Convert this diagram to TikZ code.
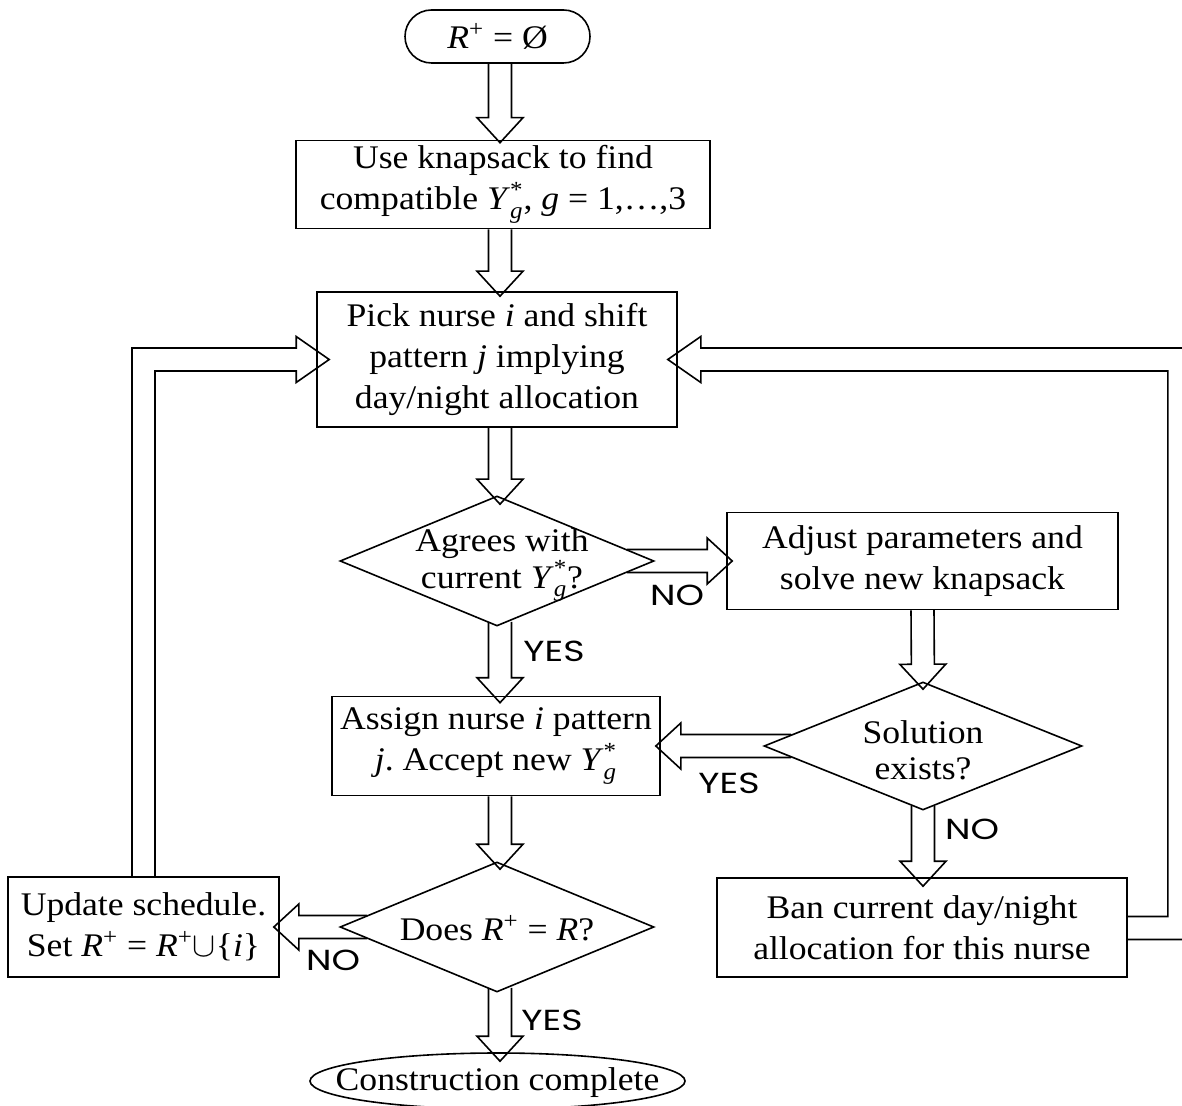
\documentclass[tikz,border=0pt]{standalone}
\usepackage{amsmath}
\usepackage{fontspec}
\setmainfont{Liberation Serif}[FakeStretch=1.08]
\newfontfamily\tagfont{Poppins}[FakeStretch=1.25]
\usetikzlibrary{shapes.geometric,shapes.misc,calc}

\newcommand\Rplus{\textit{R}\textsuperscript{+}}
\newcommand\Ystar{\textit{Y}$_{\text{\itshape g}}^{\text{*}}$}

\begin{document}
\frenchspacing
\begin{tikzpicture}[x=0.5pt,y=-0.5pt,line width=0.8pt,
  bodytext/.style={font=\fontsize{16.5}{20.5}\selectfont, align=center},
  procbox/.style={draw, rectangle, inner sep=0pt, bodytext},
  termbox/.style={draw, rounded rectangle, inner sep=0pt, bodytext},
  endbox/.style={draw, ellipse, inner sep=0pt},
  decision/.style={draw, diamond, inner sep=0pt, minimum width=157pt, minimum height=65pt},
  dtext/.style={inner sep=0pt, bodytext},
  answer/.style={inner sep=0pt, font=\tagfont\fontsize{14.5}{14.5}\selectfont},
  % hollow block arrow: two shaft lines and an open triangular head
  blockarrow/.style={to path={
    let \p1=(\tikztostart), \p2=(\tikztotarget),
        \n1={atan2(\y2-\y1,\x2-\x1)},
        \n2={veclen(\x2-\x1,\y2-\y1)-12.5pt} in
    ($(\p1)+(\n1+90:5.75pt)$) -- ($(\p1)+(\n1:\n2)+(\n1+90:5.75pt)$)
    -- ($(\p1)+(\n1:\n2)+(\n1+90:11.5pt)$) -- (\p2)
    -- ($(\p1)+(\n1:\n2)+(\n1-90:11.5pt)$) -- ($(\p1)+(\n1:\n2)+(\n1-90:5.75pt)$)
    -- ($(\p1)+(\n1-90:5.75pt)$)}}
]
\useasboundingbox (0,0) rectangle (1182,1106);

% process steps
\node[termbox, minimum width=92.5pt, minimum height=26.5pt] (start) at (497.5,36.5) {\Rplus{} = Ø};
\node[procbox, minimum width=207pt, minimum height=44pt] (knap) at (503,184.5)
  {Use knapsack to find\\compatible \Ystar, \textit{g} = 1,…,3};
\node[procbox, minimum width=180pt, minimum height=67.5pt] (pick) at (497,359.5)
  {Pick nurse \textit{i} and shift\\pattern \textit{j} implying\\day/night allocation};
\node[decision] (agree) at (497,561) {};
\node[dtext, font=\fontsize{16.5}{17}\selectfont] (agreeText) at (502,565) {Agrees with\\current \Ystar?};
\node[procbox, minimum width=195.5pt, minimum height=48.5pt] (adjust) at (922.5,561)
  {Adjust parameters and\\solve new knapsack};
\node[procbox, minimum width=164pt, minimum height=49.5pt] (assign) at (496,746)
  {Assign nurse \textit{i} pattern\\\textit{j}. Accept new \Ystar};
\node[decision, minimum width=159pt, minimum height=64pt] (sol) at (923,746) {};
\node[dtext, font=\fontsize{16.5}{18}\selectfont] (solText) at (923,750) {Solution\\exists?};
\node[procbox, minimum width=205pt, minimum height=49.5pt] (ban) at (922,927.5)
  {Ban current day/night\\allocation for this nurse};
\node[procbox, minimum width=135.5pt, minimum height=50pt] (upd) at (143.5,927)
  {Update schedule.\\Set \Rplus{} = \Rplus$\cup$\{\textit{i}\}};
\node[decision] (does) at (497,927) {};
\node[dtext] (doesText) at (497,928) {Does \Rplus{} = \textit{R}?};
\node[endbox, minimum width=187.5pt, minimum height=28pt] (done) at (497.5,1081) {};
\node[dtext] (doneText) at (497.5,1083) {Construction complete};

% branch labels
\node[answer] (noA) at (677,595) {NO};
\node[answer] (yesA) at (554,651) {YES};
\node[answer] (yesS) at (729,783) {YES};
\node[answer] (noS) at (972,829) {NO};
\node[answer] (noD) at (333,960) {NO};
\node[answer] (yesD) at (552,1020) {YES};

% straight block arrows
\draw[blockarrow] ($(start.south)+(2.5,0)$) to ($(start.south |- knap.north)+(2.5,3)$);
\draw[blockarrow] ($(start.south |- knap.south)+(2.5,0)$) to ($(start.south |- pick.north)+(2.5,5)$);
\draw[blockarrow] ($(pick.south)+(3,0)$) to ($(agree.north)+(3,9)$);
\draw[blockarrow] ($(agree.south)+(3,-5)$) to ($(agree.south |- assign.north)+(3,7)$);
\draw[blockarrow] ($(assign.south)+(4,0)$) to ($(does.north)+(3,8)$);
\draw[blockarrow] ($(does.south)+(3,-5)$) to ($(does.south |- done.north)+(3,9)$);
\draw[blockarrow] ($(agree.east)+(-28,0)$) to ($(adjust.west)+(6,0)$);
\draw[blockarrow] (adjust.south) to ($(sol.north)+(0,8)$);
\draw[blockarrow] ($(sol.west)+(28,0)$) to ($(assign.east)+(-5,0)$);
\draw[blockarrow] ($(sol.south)+(0,-5)$) to ($(sol.south |- ban.north)+(0,9)$);
\draw[blockarrow] ($(does.west)+(28,0)$) to ($(upd.east)+(-6,0)$);

% loop back from the schedule update
\draw ($(upd.north)+(-11.5,0)$) |- ($(pick.west)+(-20,-11.5)$) -- ++(0,-11.5)
  -- ($(pick.west)+(13,0)$) -- ($(pick.west)+(-20,23)$) -- ++(0,-11.5)
  -| ($(upd.north)+(11.5,0)$);

% loop back from the ban step
\draw ($(ban.east)+(0,12)$) -- ++(68,0) |- ($(pick.east)+(23,-11.5)$) -- ++(0,-11.5)
  -- ($(pick.east)+(-10,0)$) -- ($(pick.east)+(23,23)$) -- ++(0,-11.5)
  -| ($(ban.east)+(40,-11)$) -- ($(ban.east)+(0,-11)$);
\end{tikzpicture}
\end{document}
